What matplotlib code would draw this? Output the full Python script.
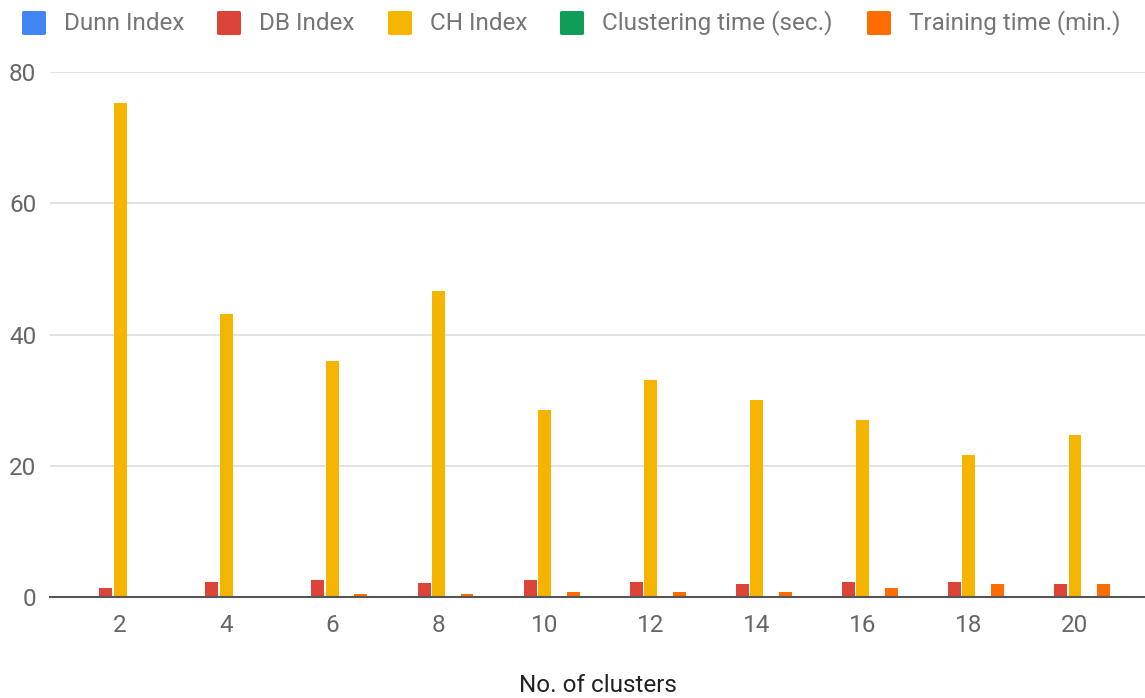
import matplotlib
matplotlib.use("Agg")
import matplotlib.pyplot as plt
import numpy as np
from matplotlib.patches import FancyBboxPatch

plt.rcParams['font.family'] = ['Roboto', 'DejaVu Sans']

clusters = ['2', '4', '6', '8', '10', '12', '14', '16', '18', '20']
series_names = ['Dunn Index', 'DB Index', 'CH Index', 'Clustering time (sec.)', 'Training time (min.)']
dunn = [0.0, 0.0, 0.0, 0.0, 0.0, 0.0, 0.0, 0.0, 0.0, 0.0]
db = [1.4, 2.3, 2.6, 2.1, 2.6, 2.3, 2.0, 2.3, 2.3, 2.0]
ch = [75.3, 43.1, 36.0, 46.6, 28.5, 33.1, 30.0, 27.0, 21.6, 24.7]
clustering = [0.0, 0.0, 0.0, 0.0, 0.0, 0.0, 0.0, 0.0, 0.0, 0.0]
training = [0.0, 0.0, 0.5, 0.5, 0.8, 0.8, 0.8, 1.3, 2.0, 2.0]
colors = ['#4285F4', '#DB4437', '#F4B400', '#0F9D58', '#FF6D01']

data = [dunn, db, ch, clustering, training]

W, H = 1145, 698
fig = plt.figure(figsize=(W / 100, H / 100), dpi=100)
ax = fig.add_axes([0.0437, 0.1447, 0.9563, 0.7521])

x = np.arange(len(clusters))
slot = 0.135
width = 0.122
for i, (vals, c) in enumerate(zip(data, colors)):
    ax.bar(x + (i - 2) * slot, vals, width=width, color=c, zorder=3)

fs = 17.5
ax.set_xlim(-0.66, 9.66)
ax.set_ylim(0, 80)
ax.set_yticks([0, 20, 40, 60, 80])
ax.set_xticks(x)
ax.set_xticklabels(clusters)
ax.grid(axis='y', color='#dddddd', linewidth=1.2, zorder=0)
for s in ['top', 'right', 'left']:
    ax.spines[s].set_visible(False)
ax.spines['bottom'].set_color('#555555')
ax.spines['bottom'].set_linewidth(1.5)
ax.spines['bottom'].set_zorder(4)
ax.tick_params(axis='both', length=0, labelsize=fs, colors='#666666')
ax.tick_params(axis='x', pad=12)
ax.tick_params(axis='y', pad=10)
ax.set_xlabel('No. of clusters', fontsize=fs, color='#222222', labelpad=27)

# legend placed manually (pixel positions of the reference)
sq_left = [22, 217, 388, 560, 867]
sq_size = 24
sq_top = 11
for xl, c, name in zip(sq_left, colors, series_names):
    p = FancyBboxPatch((xl / W, 1 - (sq_top + sq_size) / H), sq_size / W, sq_size / H,
                       boxstyle='round,pad=0,rounding_size=0.002', transform=fig.transFigure,
                       facecolor=c, edgecolor='none')
    fig.patches.append(p)
    fig.text((xl + 42) / W, 1 - (sq_top + sq_size / 2) / H, name, fontsize=fs,
             color='#757575', ha='left', va='center')

fig.savefig('out.png', dpi=100)
